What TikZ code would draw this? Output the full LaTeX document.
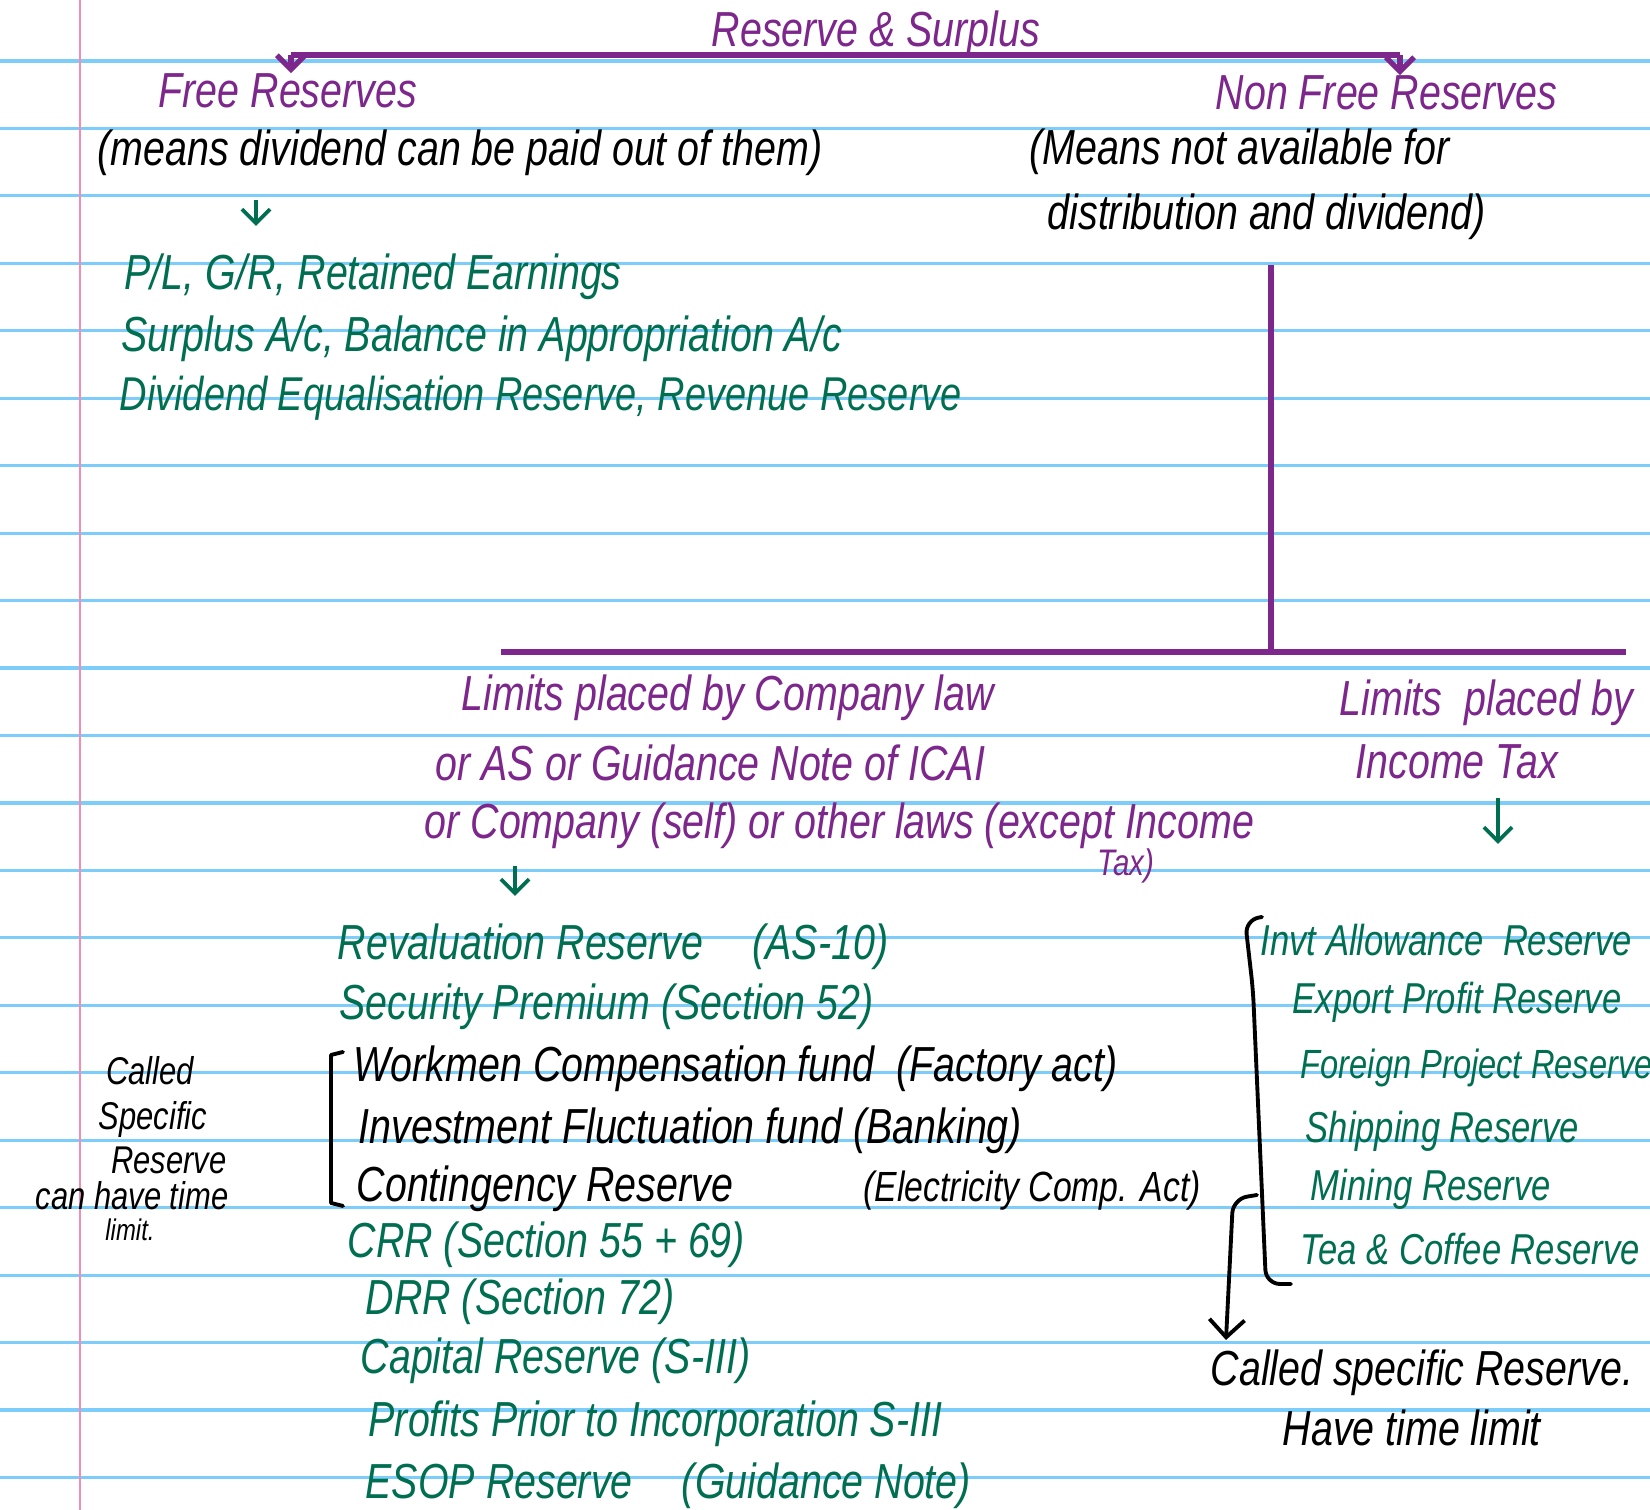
\documentclass[tikz,border=0pt]{standalone}
\usepackage{fontspec}
\setmainfont{Liberation Sans}[FakeStretch=0.8]
\usetikzlibrary{arrows.meta}

\definecolor{penpurple}{RGB}{125,38,140}
\definecolor{pengreen}{RGB}{0,110,80}
\definecolor{ruleblue}{RGB}{125,205,250}
\definecolor{marginpink}{RGB}{245,140,180}

\tikzset{
	hand/.style={inner sep=0pt, anchor=west, font=\fontsize{14}{16}\selectfont\itshape},
	purpletxt/.style={hand, text=penpurple},
	greentxt/.style={hand, text=pengreen},
	blacktxt/.style={hand, text=black},
	smalltxt/.style={font=\fontsize{12.3}{14}\selectfont\itshape},
	notetxt/.style={blacktxt, anchor=center, font=\fontsize{11}{13}\selectfont\itshape},
	ruled/.style={ruleblue, line width=0.9pt},
	pline/.style={penpurple, line width=1.5pt},
	ink/.style={black, line width=1.1pt, line cap=round, line join=round},
	garrow/.style={pengreen, line width=1.1pt, -{Straight Barb[length=4pt]}},
}

\begin{document}
\begin{tikzpicture}[x=0.01cm, y=-0.01cm]
	\useasboundingbox (0,0) rectangle (1650,1510);
	\fill[white] (0,0) rectangle (1650,1510);

	%paper
	\foreach \k in {0,...,21}
		\draw[ruled] (0,{61+67.45*\k}) -- (1650,{61+67.45*\k});
	\draw[marginpink, line width=0.6pt] (80,0) -- (80,1510);

	%top
	\node[purpletxt, anchor=center] (title) at (876,34) {Reserve \& Surplus};
	\node[purpletxt] (freeres) at (158,91) {Free Reserves};
	\node[purpletxt] (nonfree) at (1215,93) {Non Free Reserves};
	\coordinate (barL) at (291,55);
	\coordinate (barR) at (1400,55);
	\draw[pline, line width=1.8pt] (barL) -- (barR);
	\draw[pline, -{Straight Barb[length=4pt]}] (barL) -- (barL |- freeres.north);
	\draw[pline, -{Straight Barb[length=4pt]}] (barR) -- (barR |- nonfree.north);

	%free reserves
	\node[blacktxt] (freemeans) at (97,153) {(means dividend can be paid out of them)};
	\coordinate (fdown) at (256,200);
	\coordinate (fend) at (256,226);
	\draw[garrow] (fdown) -- (fend);
	\node[greentxt] (freelist1) at (124,277) {P/L, G/R, Retained Earnings};
	\node[greentxt] (freelist2) at (121,339) {Surplus A/c, Balance in Appropriation A/c};
	\node[greentxt, font=\fontsize{13.5}{16}\selectfont\itshape] (freelist3) at (119,398) {Dividend Equalisation Reserve, Revenue Reserve};

	%non free reserves
	\node[blacktxt] (nfmeans1) at (1029,152) {(Means not available for};
	\node[blacktxt] (nfmeans2) at (1047,217) {distribution and dividend)};
	\coordinate (nfdrop) at (1271,265);
	\coordinate (split) at (1271,652);
	\coordinate (splitL) at (501,652);
	\coordinate (splitR) at (1626,652);
	\draw[pline] (nfdrop) -- (split);
	\draw[pline] (splitL) -- (splitR);

	%company law side
	\node[purpletxt] (lawlim1) at (461,698) {Limits placed by Company law};
	\node[purpletxt] (lawlim2) at (435,763) {or AS or Guidance Note of ICAI};
	\node[purpletxt] (lawlim3) at (424,826) {or Company (self) or other laws (except Income};
	\node[purpletxt, font=\fontsize{10.5}{12}\selectfont\itshape] (lawtax) at (1097,866) {Tax)};
	\coordinate (ldown) at (515,866);
	\coordinate (lend) at (515,896);
	\draw[garrow] (ldown) -- (lend);

	\node[greentxt] (revres) at (337,947) {Revaluation Reserve\quad (AS-10)};
	\node[greentxt] (secprem) at (339,1007) {Security Premium (Section 52)};
	\node[blacktxt] (workfund) at (353,1069) {Workmen Compensation fund\ \ (Factory act)};
	\node[blacktxt] (invfund) at (358,1131) {Investment Fluctuation fund (Banking)};
	\node[blacktxt] (contres) at (356,1189) {Contingency Reserve};
	\node[blacktxt, font=\fontsize{12}{14}\selectfont\itshape] (contact) at (863,1191) {(Electricity Comp. Act)};
	\draw[ink] (343,1052) -- (331,1055) -- (331,1203) -- (343,1206);
	\node[greentxt] (crr) at (347,1245) {CRR (Section 55 + 69)};
	\node[greentxt] (drr) at (365,1302) {DRR (Section 72)};
	\node[greentxt] (capres) at (360,1361) {Capital Reserve (S-III)};
	\node[greentxt] (preinc) at (368,1424) {Profits Prior to Incorporation S-III};
	\node[greentxt] (esop) at (365,1486) {ESOP Reserve\quad (Guidance Note)};

	%margin note
	\node[notetxt] (calledA) at (150,1071) {Called};
	\node[notetxt] (calledB) at (153,1120) {Specific};
	\node[notetxt] (calledC) at (169,1160) {Reserve};
	\node[notetxt] (calledD) at (132,1196) {can have time};
	\node[notetxt, font=\fontsize{8.5}{10}\selectfont\itshape] (calledE) at (130,1230) {limit.};

	%income tax side
	\node[purpletxt] (itlim1) at (1339,703) {Limits\ \ placed by};
	\node[purpletxt] (itlim2) at (1355,762) {Income Tax};
	\coordinate (idown) at (1498,798);
	\coordinate (iend) at (1498,844);
	\draw[garrow] (idown) -- (iend);

	\node[greentxt, smalltxt] (invtres) at (1260,940) {Invt Allowance\ \ Reserve};
	\node[greentxt, smalltxt] (exportres) at (1292,1002) {Export Profit Reserve};
	\node[greentxt, font=\fontsize{11.6}{14}\selectfont\itshape] (foreignres) at (1300,1068) {Foreign Project Reserve};
	\node[greentxt, smalltxt] (shipres) at (1305,1131) {Shipping Reserve};
	\node[greentxt, smalltxt] (miningres) at (1310,1189) {Mining Reserve};
	\node[greentxt, smalltxt] (teares) at (1300,1249) {Tea \& Coffee Reserve};
	\draw[ink, rounded corners=4pt] (1262,917) -- (1245,920) -- (1253,990) -- (1266,1284) -- (1291,1284);

	\node[blacktxt] (specB) at (1210,1373) {Called specific Reserve.};
	\node[blacktxt] (haveB) at (1282,1428) {Have time limit};
	\coordinate (sdown) at (1257,1195);
	\coordinate (send) at (1226,1340);
	\draw[ink, rounded corners=4pt, -{Straight Barb[length=5pt]}] (sdown) -- (1233,1199) -- (send);

\end{tikzpicture}
\end{document}
